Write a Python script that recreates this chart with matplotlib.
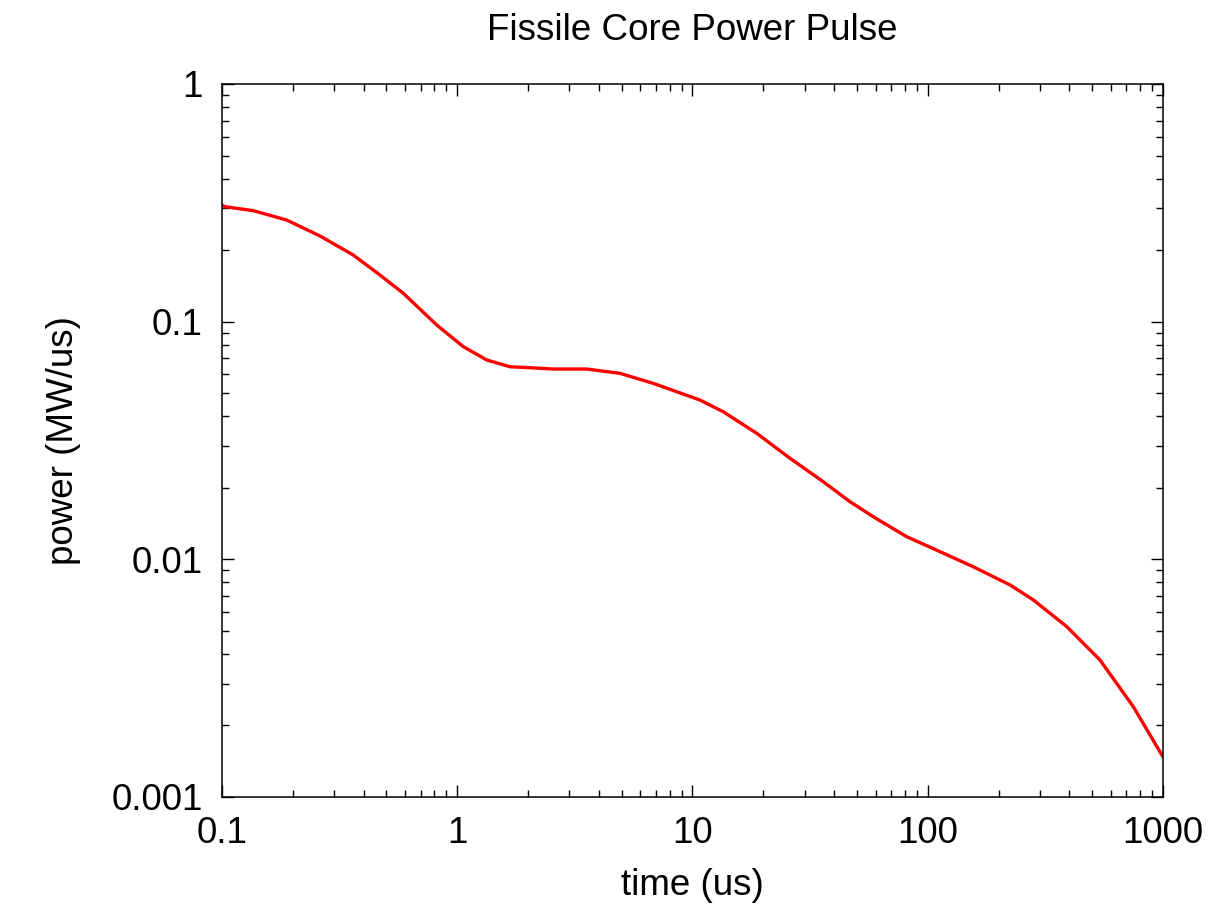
import matplotlib
matplotlib.use('Agg')
import matplotlib.pyplot as plt
from matplotlib.ticker import LogLocator, FixedLocator, NullFormatter

plt.rcParams['font.family'] = ['Liberation Sans', 'DejaVu Sans']

# values
time_us = [0.1, 0.103, 0.136, 0.188, 0.261, 0.361, 0.469, 0.59, 0.818,
           1.061, 1.334, 1.676, 2.04, 2.56, 3.55, 4.92, 6.81, 10.76, 13.5,
           18.75, 26.0, 36.0, 46.7, 58.7, 81.4, 112.8, 156, 224, 281, 390,
           540, 748, 1000]
power = [0.309, 0.3046, 0.293, 0.2678, 0.2293, 0.1908, 0.1572, 0.1316,
         0.0968, 0.0785, 0.069, 0.0646, 0.064, 0.0632, 0.0632, 0.0606,
         0.055, 0.0468, 0.0418, 0.0339, 0.0266, 0.0212, 0.01748, 0.01511,
         0.01245, 0.01077, 0.00931, 0.0078, 0.00675, 0.00521, 0.00377,
         0.0024, 0.001477]

x_ticks = [0.1, 1, 10, 100, 1000]
x_labels = ['0.1', '1', '10', '100', '1000']
y_ticks = [0.001, 0.01, 0.1, 1]
y_labels = ['0.001', '0.01', '0.1', '1']

fig = plt.figure(figsize=(12.28, 9.10), dpi=100)
ax = fig.add_axes([0.1808, 0.1242, 0.7662, 0.7835])

ax.plot(time_us, power, color='#ff0000', lw=2.4, solid_joinstyle='round')

ax.set_xscale('log')
ax.set_yscale('log')
ax.set_xlim(0.1, 1000)
ax.set_ylim(0.001, 1)

ax.xaxis.set_major_locator(FixedLocator(x_ticks))
ax.set_xticklabels(x_labels)
ax.yaxis.set_major_locator(FixedLocator(y_ticks))
ax.set_yticklabels(y_labels)
ax.xaxis.set_minor_locator(LogLocator(base=10, subs=range(2, 10), numticks=20))
ax.yaxis.set_minor_locator(LogLocator(base=10, subs=range(2, 10), numticks=20))
ax.xaxis.set_minor_formatter(NullFormatter())
ax.yaxis.set_minor_formatter(NullFormatter())

ax.tick_params(which='both', direction='in', top=True, right=True,
               color='black', width=1.0)
ax.tick_params(which='major', length=8.5, labelsize=26.5, pad=14)
ax.tick_params(which='minor', length=5)
for s in ax.spines.values():
    s.set_linewidth(1.1)

ax.set_xlabel('time (us)', fontsize=26.5, labelpad=12)
ax.set_ylabel('power (MW/us)', fontsize=26.5, labelpad=22)
fig.text(0.564, 0.967, 'Fissile Core Power Pulse', fontsize=26.5,
         ha='center', va='center')

fig.savefig('out.png', dpi=100)
